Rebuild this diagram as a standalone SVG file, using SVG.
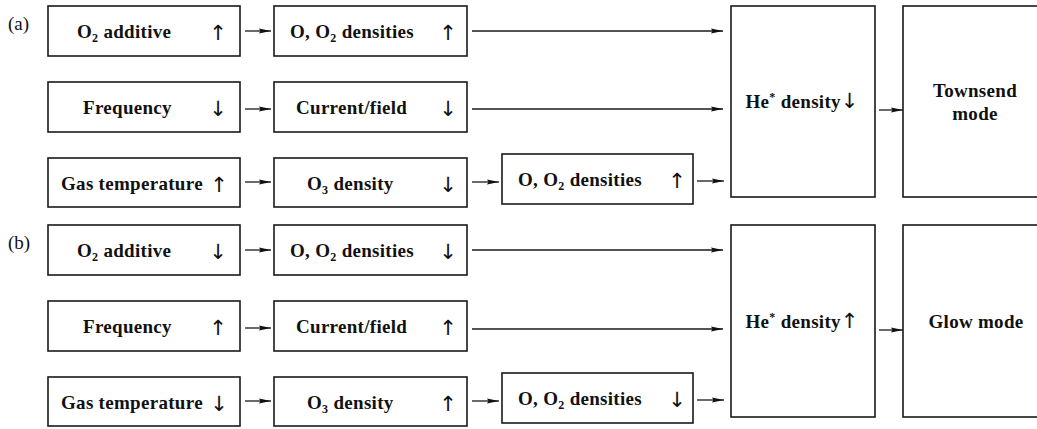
<svg xmlns="http://www.w3.org/2000/svg" width="1037" height="429" viewBox="0 0 1037 429">
  <style>
    .box { fill: #fff; stroke: #1a1a1a; stroke-width: 1.6; }
    .lbl { font-family: "Liberation Serif", "Times New Roman", serif; font-weight: bold; font-size: 19px; letter-spacing: 0.3px; fill: #111; }
    .sub { font-size: 12px; }
    .ar { font-family: "DejaVu Sans", "Liberation Sans", sans-serif; font-weight: normal; font-size: 21px; fill: #111; text-anchor: middle; letter-spacing: 0; }
    .tag { font-family: "Liberation Serif", "Times New Roman", serif; font-size: 19px; fill: #111; }
    .mid { text-anchor: middle; }
    .conn line { stroke: #1a1a1a; stroke-width: 1.3; marker-end: url(#head); }
  </style>
  <defs>
    <marker id="head" markerUnits="userSpaceOnUse" markerWidth="13" markerHeight="7" refX="12" refY="3.5" orient="auto">
      <path d="M0,0.9 L12,3.5 L0,6.1 L1.5,3.5 z" fill="#111"/>
    </marker>
  </defs>
  <rect width="1037" height="429" fill="#fff"/>

  <text class="tag" x="8" y="30">(a)</text>
  <text class="tag" x="8" y="249">(b)</text>

  <!-- panel (a): inputs -->
  <g id="a-o2-additive">
    <rect class="box" x="48" y="6" width="192" height="50"/>
    <text class="lbl" x="77" y="38">O<tspan class="sub" dy="4">2</tspan><tspan dy="-4"> additive</tspan></text>
    <text class="ar" x="218" y="40">↑</text>
  </g>
  <g id="a-frequency">
    <rect class="box" x="48" y="82" width="192" height="50"/>
    <text class="lbl" x="83" y="114">Frequency</text>
    <text class="ar" x="218" y="116">↓</text>
  </g>
  <g id="a-gas-temperature">
    <rect class="box" x="48" y="158" width="192" height="49"/>
    <text class="lbl" x="61" y="190">Gas temperature</text>
    <text class="ar" x="219" y="192">↑</text>
  </g>

  <!-- panel (a): intermediate quantities -->
  <g id="a-o-o2-densities">
    <rect class="box" x="274" y="6" width="193" height="50"/>
    <text class="lbl" x="290" y="38">O, O<tspan class="sub" dy="4">2</tspan><tspan dy="-4"> densities</tspan></text>
    <text class="ar" x="448" y="40">↑</text>
  </g>
  <g id="a-current-field">
    <rect class="box" x="274" y="82" width="193" height="50"/>
    <text class="lbl" x="296" y="114">Current/field</text>
    <text class="ar" x="448" y="116">↓</text>
  </g>
  <g id="a-o3-density">
    <rect class="box" x="274" y="158" width="193" height="49"/>
    <text class="lbl" x="307" y="190">O<tspan class="sub" dy="4">3</tspan><tspan dy="-4"> density</tspan></text>
    <text class="ar" x="448" y="192">↓</text>
  </g>
  <g id="a-o-o2-densities-2">
    <rect class="box" x="502" y="154" width="191" height="50"/>
    <text class="lbl" x="518" y="186">O, O<tspan class="sub" dy="4">2</tspan><tspan dy="-4"> densities</tspan></text>
    <text class="ar" x="677" y="188">↑</text>
  </g>

  <!-- panel (a): outcome -->
  <g id="a-he-density">
    <rect class="box" x="731" y="6" width="144" height="191"/>
    <text class="lbl mid" x="802" y="108">He<tspan class="sub" dy="-7">*</tspan><tspan dy="7"> density</tspan><tspan class="ar" font-size="20">↓</tspan></text>
  </g>
  <g id="a-townsend-mode">
    <rect class="box" x="903" y="6" width="144" height="191"/>
    <text class="lbl mid" x="975" y="97">Townsend</text>
    <text class="lbl mid" x="975" y="120">mode</text>
  </g>

  <!-- panel (b): inputs -->
  <g id="b-o2-additive">
    <rect class="box" x="48" y="225" width="192" height="50"/>
    <text class="lbl" x="77" y="257">O<tspan class="sub" dy="4">2</tspan><tspan dy="-4"> additive</tspan></text>
    <text class="ar" x="218" y="259">↓</text>
  </g>
  <g id="b-frequency">
    <rect class="box" x="48" y="301" width="192" height="50"/>
    <text class="lbl" x="83" y="333">Frequency</text>
    <text class="ar" x="218" y="335">↑</text>
  </g>
  <g id="b-gas-temperature">
    <rect class="box" x="48" y="377" width="192" height="49"/>
    <text class="lbl" x="61" y="409">Gas temperature</text>
    <text class="ar" x="219" y="411">↓</text>
  </g>

  <!-- panel (b): intermediate quantities -->
  <g id="b-o-o2-densities">
    <rect class="box" x="274" y="225" width="193" height="50"/>
    <text class="lbl" x="290" y="257">O, O<tspan class="sub" dy="4">2</tspan><tspan dy="-4"> densities</tspan></text>
    <text class="ar" x="448" y="259">↓</text>
  </g>
  <g id="b-current-field">
    <rect class="box" x="274" y="301" width="193" height="50"/>
    <text class="lbl" x="296" y="333">Current/field</text>
    <text class="ar" x="448" y="335">↑</text>
  </g>
  <g id="b-o3-density">
    <rect class="box" x="274" y="377" width="193" height="49"/>
    <text class="lbl" x="307" y="409">O<tspan class="sub" dy="4">3</tspan><tspan dy="-4"> density</tspan></text>
    <text class="ar" x="448" y="411">↑</text>
  </g>
  <g id="b-o-o2-densities-2">
    <rect class="box" x="502" y="373" width="191" height="50"/>
    <text class="lbl" x="518" y="405">O, O<tspan class="sub" dy="4">2</tspan><tspan dy="-4"> densities</tspan></text>
    <text class="ar" x="677" y="407">↓</text>
  </g>

  <!-- panel (b): outcome -->
  <g id="b-he-density">
    <rect class="box" x="731" y="225" width="144" height="192"/>
    <text class="lbl mid" x="802" y="328">He<tspan class="sub" dy="-7">*</tspan><tspan dy="7"> density</tspan><tspan class="ar" font-size="20">↑</tspan></text>
  </g>
  <g id="b-glow-mode">
    <rect class="box" x="903" y="225" width="144" height="192"/>
    <text class="lbl mid" x="976" y="328">Glow mode</text>
  </g>

  <!-- connectors -->
  <g id="connectors" class="conn">
    <line x1="245" y1="31" x2="271" y2="31"/>
    <line x1="245" y1="109" x2="271" y2="109"/>
    <line x1="245" y1="182" x2="271" y2="182"/>
    <line x1="472" y1="31" x2="723" y2="31"/>
    <line x1="472" y1="109" x2="723" y2="109"/>
    <line x1="472" y1="182" x2="499" y2="182"/>
    <line x1="697" y1="181" x2="724" y2="181"/>
    <line x1="879" y1="110" x2="903" y2="110"/>

    <line x1="245" y1="250" x2="271" y2="250"/>
    <line x1="245" y1="328" x2="271" y2="328"/>
    <line x1="245" y1="401" x2="271" y2="401"/>
    <line x1="472" y1="250" x2="723" y2="250"/>
    <line x1="472" y1="329" x2="723" y2="329"/>
    <line x1="472" y1="401" x2="499" y2="401"/>
    <line x1="697" y1="400" x2="724" y2="400"/>
    <line x1="879" y1="330" x2="903" y2="330"/>
  </g>
</svg>
